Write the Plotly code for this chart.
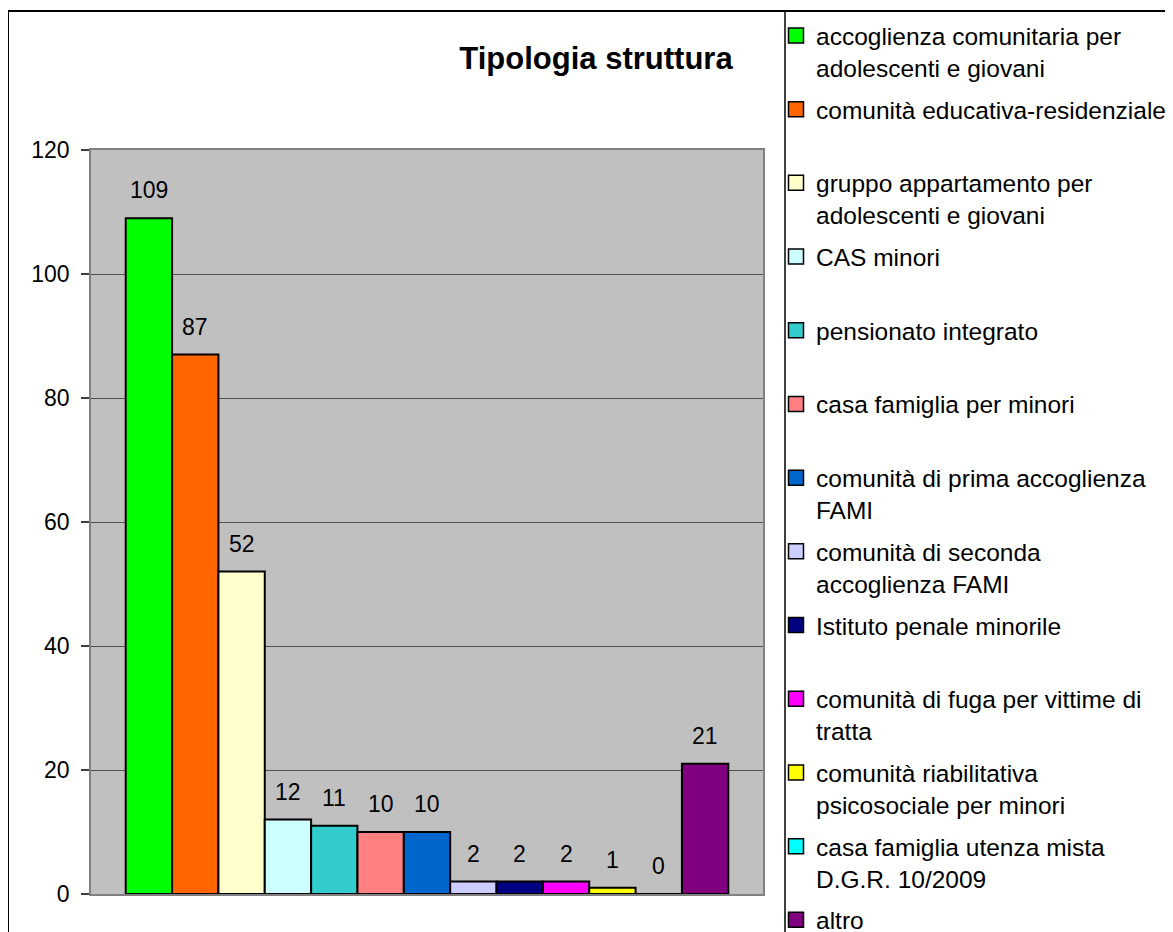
import plotly.graph_objects as go

# ---- data ----
categories = [
    "accoglienza comunitaria per<br>adolescenti e giovani",
    "comunità educativa-residenziale<br> ",
    "gruppo appartamento per<br>adolescenti e giovani",
    "CAS minori<br> ",
    "pensionato integrato<br> ",
    "casa famiglia per minori<br> ",
    "comunità di prima accoglienza<br>FAMI",
    "comunità di seconda<br>accoglienza FAMI",
    "Istituto penale minorile<br> ",
    "comunità di fuga per vittime di<br>tratta",
    "comunità riabilitativa<br>psicosociale per minori",
    "casa famiglia utenza mista<br>D.G.R. 10/2009",
    "altro",
]
values = [109, 87, 52, 12, 11, 10, 10, 2, 2, 2, 1, 0, 21]
colors = [
    "#00FF00", "#FF6600", "#FFFFCC", "#CCFFFF", "#33CCCC", "#FF8080",
    "#0066CC", "#CCCCFF", "#000080", "#FF00FF", "#FFFF00", "#00FFFF", "#800080",
]
title_text = "Tipologia struttura"
y_ticks = [0, 20, 40, 60, 80, 100, 120]

FONT = "Liberation Sans, Arial, sans-serif"
OFF = 8  # page body margin
W, H = 1173 - OFF, 932 - OFF
L, R, T, B = 91 - OFF, 763 - OFF, 150 - OFF, 894 - OFF


def px_x(px):
    return (px - OFF - L) / (R - L)


def px_y(py):
    return (B - (py - OFF)) / (B - T)


fig = go.Figure()
positions = list(range(len(values)))
for i, (name, v, c) in enumerate(zip(categories, values, colors)):
    fig.add_trace(go.Bar(
        x=[positions[i]], y=[v], name=name, width=1,
        marker=dict(color=c, line=dict(color="black", width=2)),
        legendgroup=str(i), showlegend=False, hoverinfo="skip",
    ))
    # legend entry (same name / colour) with a larger square swatch
    fig.add_trace(go.Scatter(
        x=[None], y=[None], mode="markers", name=name, legendgroup=str(i),
        marker=dict(symbol="square", size=15, color=c,
                    line=dict(color="black", width=1.5)),
        hoverinfo="skip",
    ))

for i, v in enumerate(values):
    fig.add_annotation(
        x=positions[i], y=v, text=str(v), showarrow=False,
        yanchor="middle", xanchor="center", yshift=28,
        font=dict(family=FONT, size=23, color="black"),
    )

shapes = [
    dict(type="rect", xref="paper", yref="paper",
         x0=px_x(8), x1=px_x(1190), y0=px_y(11), y1=px_y(950),
         line=dict(color="black", width=2), layer="below"),
    dict(type="line", xref="paper", yref="paper",
         x0=px_x(785), x1=px_x(785), y0=px_y(11), y1=px_y(950),
         line=dict(color="black", width=1.5)),
]

fig.update_layout(
    width=W, height=H,
    margin=dict(l=L, r=W - R, t=T, b=H - B, pad=0),
    paper_bgcolor="white",
    plot_bgcolor="#C0C0C0",
    barmode="overlay",
    font=dict(family=FONT, size=23, color="black"),
    title=dict(text="<b>" + title_text + "</b>", x=(596 - OFF) / W, xanchor="center",
               xref="container", yref="container", y=1 - (58 - OFF) / H, yanchor="middle",
               font=dict(family=FONT, size=31, color="black")),
    showlegend=True,
    legend=dict(
        xref="container", yref="container",
        x=(776 - OFF) / W, xanchor="left", y=1 - (13 - OFF) / H, yanchor="top",
        font=dict(family=FONT, size=24.5, color="black"),
        bgcolor="rgba(0,0,0,0)", valign="top",
        tracegroupgap=7, traceorder="grouped", maxheight=2000,
    ),
    shapes=shapes,
    xaxis=dict(range=[-1.249, 12 + 1.249], showticklabels=False, ticks="",
               showgrid=False, zeroline=False, showline=True, linecolor="#808080",
               linewidth=1.5, mirror=True, fixedrange=True),
    yaxis=dict(range=[0, 120], tickvals=y_ticks, ticks="outside", ticklen=8,
               tickcolor="#404040", tickwidth=1.5, showgrid=True, gridcolor="#505050",
               gridwidth=1, zeroline=False, showline=True, linecolor="#808080",
               linewidth=1.5, mirror=True, ticklabelstandoff=7,
               tickfont=dict(family=FONT, size=23, color="black")),
)

fig.write_html("out.html")
